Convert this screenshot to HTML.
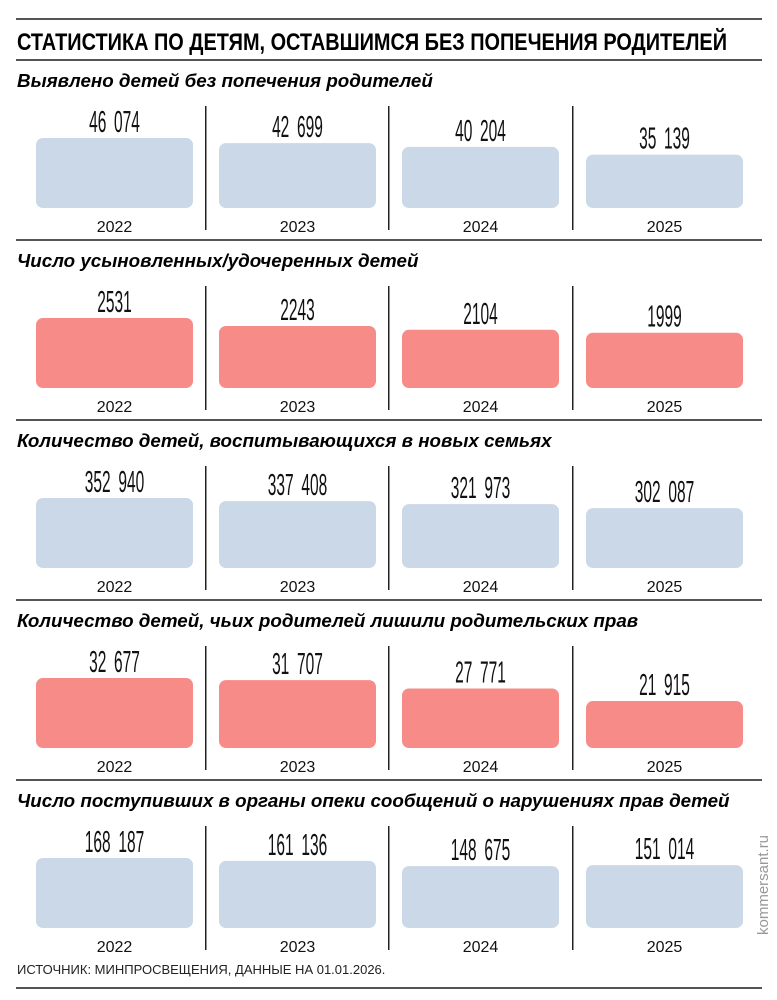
<!DOCTYPE html>
<html><head><meta charset="utf-8"><style>
body{margin:0;background:#fff;width:777px;height:1000px;position:relative;overflow:hidden;font-family:"Liberation Sans",sans-serif}
.abs{position:absolute}
.rule{position:absolute;left:16px;width:746px;background:#555}
</style></head><body>
<div class="rule" style="top:18px;height:2px"></div>
<div class="rule" style="top:59px;height:2px"></div>
<svg id="chart" class="abs" style="left:0;top:0" width="777" height="1000">
<text x="17" y="50" font-size="24" font-weight="bold" textLength="710" lengthAdjust="spacingAndGlyphs" fill="#000">СТАТИСТИКА ПО ДЕТЯМ, ОСТАВШИМСЯ БЕЗ ПОПЕЧЕНИЯ РОДИТЕЛЕЙ</text>
</svg>
<div class="abs" style="left:17px;top:962px;font-size:13px;color:#222">ИСТОЧНИК: МИНПРОСВЕЩЕНИЯ, ДАННЫЕ НА 01.01.2026.</div>
<div class="rule" style="top:987px;height:2px"></div>
<div class="abs" style="left:755px;top:935px;transform:rotate(-90deg);transform-origin:0 0;font-size:15px;color:#999;white-space:nowrap">kommersant.ru</div>
<script>
const years = ["2022","2023","2024","2025"];
const titles = ["Выявлено детей без попечения родителей","Число усыновленных/удочеренных детей","Количество детей, воспитывающихся в новых семьях","Количество детей, чьих родителей лишили родительских прав","Число поступивших в органы опеки сообщений о нарушениях прав детей"];
const values1 = [46074,42699,40204,35139];
const values2 = [2531,2243,2104,1999];
const values3 = [352940,337408,321973,302087];
const values4 = [32677,31707,27771,21915];
const values5 = [168187,161136,148675,151014];
const series = [values1,values2,values3,values4,values5];
const colors = ["#cbd8e8","#f78b88","#cbd8e8","#f78b88","#cbd8e8"];
const NS="http://www.w3.org/2000/svg";
const svg=document.getElementById('chart');
function fmt(v){const s=String(v);return s.length>4? s.slice(0,s.length-3)+"\u2002"+s.slice(-3):s;}
function mk(t,a){const e=document.createElementNS(NS,t);for(const k in a)e.setAttribute(k,a[k]);svg.appendChild(e);return e;}
const colX=[36,219,402,586], colW=157;
series.forEach((vals,si)=>{
  const off=si*180;
  const base=208+off, maxH=70;
  const mx=Math.max(...vals);
  const h=mk('text',{x:17,y:87+off,'font-size':18.8,'font-weight':'bold','font-style':'italic',fill:'#000'});
  h.textContent=titles[si];
  
  
  if(si>0){const r=mk('rect',{x:16,y:59+off,width:746,height:2,fill:'#555'});
    
    }
  vals.forEach((v,i)=>{
    const bh=v/mx*maxH;
    const b=mk('rect',{x:colX[i],y:base-bh,width:colW,height:bh,rx:7,fill:colors[si]});
    
    
    const cx=colX[i]+colW/2;
    const t=mk('text',{x:cx,y:base-bh-6,'font-size':31,'text-anchor':'middle',fill:'#111',transform:`translate(${cx},0) scale(0.5,1) translate(${-cx},0)`});
    t.textContent=fmt(v);
    
    
    const y=mk('text',{x:cx,y:base+24,'font-size':16,'text-anchor':'middle',fill:'#111'});
    y.textContent=years[i];
    
    
    if(i>0){const d=mk('rect',{x:colX[i]-14,y:base-102,width:1.5,height:124,fill:'#222'});
      
      }
  });
});
</script>
</body></html>
